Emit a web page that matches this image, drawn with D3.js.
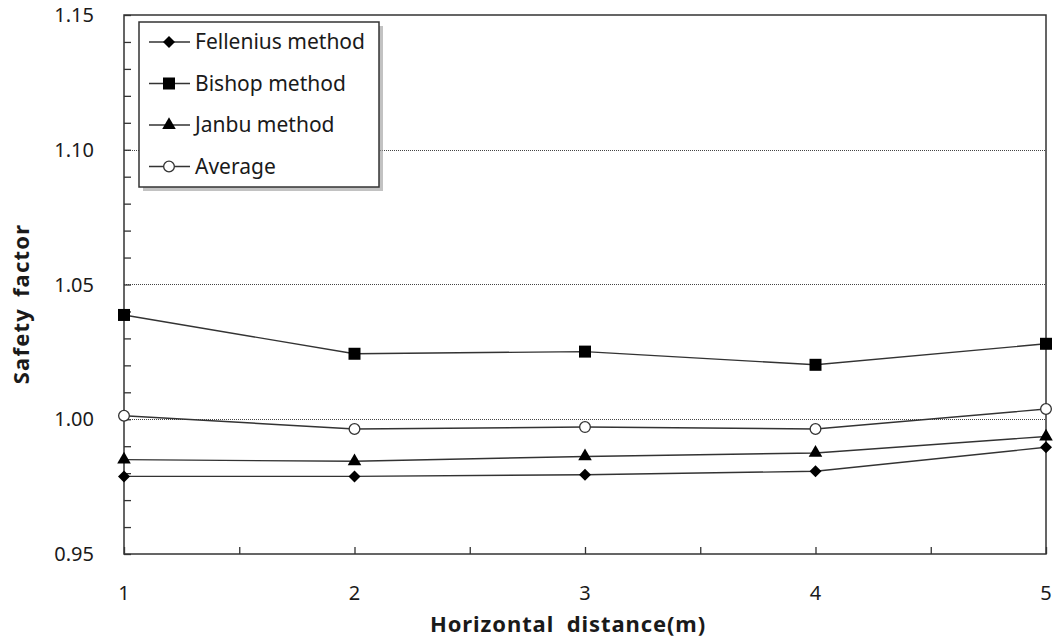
<!DOCTYPE html>
<html>
<head>
<meta charset="utf-8">
<script src="https://cdn.jsdelivr.net/npm/d3@7"></script>
<style>
  body { margin: 0; background: #fff; }
  text { font-family: "Noto Sans", "Open Sans", sans-serif; fill: #1a1a1a; }
</style>
</head>
<body>
<div id="chart"></div>
<script>
// data
var distances = [1, 2, 3, 4, 5];
var fellenius = [0.9788, 0.9788, 0.9794, 0.9807, 0.9896];
var bishop = [1.0387, 1.0243, 1.0251, 1.0202, 1.0280];
var janbu = [0.9850, 0.9844, 0.9862, 0.9875, 0.9936];
var average = [1.0013, 0.9964, 0.9971, 0.9964, 1.0038];
var yTickLabels = [0.95, 1.00, 1.05, 1.10, 1.15];
var gridValues = [1.00, 1.05, 1.10];

var series = [
    {name: "Fellenius method", values: fellenius, symbol: d3.symbolSquare, size: 72, rot: 45, fill: "#000"},
    {name: "Bishop method", values: bishop, symbol: d3.symbolSquare, size: 144, rot: 0, fill: "#000"},
    {name: "Janbu method", values: janbu, symbol: d3.symbolTriangle, size: 80, rot: 0, fill: "#000"},
    {name: "Average", values: average, symbol: d3.symbolCircle, size: 90, rot: 0, fill: "#fff"}
];

var W = 1060, H = 642;
var margin = {top: 15, right: 14, bottom: 88, left: 124};
var width = W - margin.left - margin.right,
    height = H - margin.top - margin.bottom;

var svg = d3.select("#chart").append("svg")
    .attr("width", W)
    .attr("height", H);

var g = svg.append("g")
    .attr("transform", "translate(" + margin.left + "," + margin.top + ")");

var x = d3.scaleLinear().domain([1, 5]).range([0, width]);
var y = d3.scaleLinear().domain([0.95, 1.15]).range([height, 0]);

// dotted grid lines
g.selectAll(".grid")
    .data(gridValues)
    .enter().append("line")
    .attr("x1", 0).attr("x2", width)
    .attr("y1", function (d) { return Math.round(y(d)) + 0.5; })
    .attr("y2", function (d) { return Math.round(y(d)) + 0.5; })
    .attr("stroke", "#444")
    .attr("stroke-width", 1)
    .attr("stroke-dasharray", "1,1");

// frame
g.append("rect")
    .attr("x", 0).attr("y", 0)
    .attr("width", width).attr("height", height)
    .attr("fill", "none")
    .attr("stroke", "#333")
    .attr("stroke-width", 1.5);

// inner ticks
var yAxis = d3.axisRight(y)
    .tickValues(d3.range(0.95, 1.1501, 0.01))
    .tickSize(7).tickFormat("");
g.append("g").call(yAxis)
    .call(function (s) { s.select(".domain").remove(); })
    .selectAll("line").attr("stroke", "#333").attr("stroke-width", 1.3);

var xAxis = d3.axisTop(x)
    .tickValues(d3.range(1, 5.01, 0.5))
    .tickSize(7).tickFormat("");
g.append("g").attr("transform", "translate(0," + height + ")").call(xAxis)
    .call(function (s) { s.select(".domain").remove(); })
    .selectAll("line").attr("stroke", "#333").attr("stroke-width", 1.3);

// tick labels
g.selectAll(".ylab")
    .data(yTickLabels)
    .enter().append("text")
    .attr("x", -30)
    .attr("y", function (d) { return y(d); })
    .attr("dy", "0.35em")
    .attr("text-anchor", "end")
    .style("font-size", "20px")
    .text(function (d) { return d3.format(".2f")(d); });

g.selectAll(".xlab")
    .data(distances)
    .enter().append("text")
    .attr("x", function (d) { return x(d); })
    .attr("y", height + 46)
    .attr("text-anchor", "middle")
    .style("font-size", "20px")
    .text(function (d) { return d; });

// axis titles
svg.append("text")
    .attr("x", 568)
    .attr("y", 632)
    .attr("text-anchor", "middle")
    .style("font-size", "22px")
    .style("font-weight", "bold")
    .style("letter-spacing", "0.9px")
    .style("word-spacing", "6px")
    .text("Horizontal distance(m)");

svg.append("text")
    .attr("transform", "translate(29,304) rotate(-90)")
    .attr("text-anchor", "middle")
    .style("font-size", "22px")
    .style("font-weight", "bold")
    .style("letter-spacing", "1.2px")
    .style("word-spacing", "4px")
    .text("Safety factor");

// lines + markers
var line = d3.line()
    .x(function (d, i) { return x(distances[i]); })
    .y(function (d) { return y(d); });

series.forEach(function (s) {
    g.append("path")
        .datum(s.values)
        .attr("d", line)
        .attr("fill", "none")
        .attr("stroke", "#333")
        .attr("stroke-width", 1.4);
});

series.forEach(function (s) {
    g.selectAll(null)
        .data(s.values)
        .enter().append("path")
        .attr("d", d3.symbol().type(s.symbol).size(s.size))
        .attr("transform", function (d, i) {
            return "translate(" + x(distances[i]) + "," + y(d) + ") rotate(" + s.rot + ")";
        })
        .attr("fill", s.fill)
        .attr("stroke", s.fill === "#fff" ? "#333" : "none")
        .attr("stroke-width", 1.3);
});

// legend
var legend = svg.append("g").attr("transform", "translate(139,22)");
legend.append("rect")
    .attr("x", 4).attr("y", 4)
    .attr("width", 240).attr("height", 165)
    .attr("fill", "#999")
    .attr("opacity", 0.6);
legend.append("rect")
    .attr("width", 240).attr("height", 165)
    .attr("fill", "#fff")
    .attr("stroke", "#333")
    .attr("stroke-width", 1.5);

var rows = legend.selectAll(".row")
    .data(series)
    .enter().append("g")
    .attr("transform", function (d, i) { return "translate(0," + (20 + i * 41.5) + ")"; });
rows.append("line")
    .attr("x1", 10).attr("x2", 51)
    .attr("stroke", "#333").attr("stroke-width", 1.4);
rows.append("path")
    .attr("d", function (d) { return d3.symbol().type(d.symbol).size(d.size)(); })
    .attr("transform", function (d) { return "translate(30,0) rotate(" + d.rot + ")"; })
    .attr("fill", function (d) { return d.fill; })
    .attr("stroke", function (d) { return d.fill === "#fff" ? "#333" : "none"; })
    .attr("stroke-width", 1.3);
rows.append("text")
    .attr("x", 56)
    .attr("dy", "0.35em")
    .style("font-size", "21px")
    .text(function (d) { return d.name; });
</script>
</body>
</html>
